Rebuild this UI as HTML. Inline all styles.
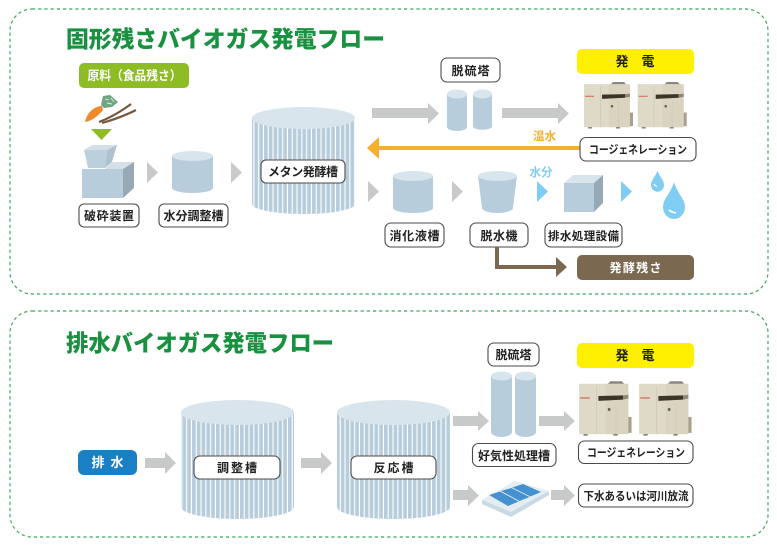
<!DOCTYPE html>
<html lang="ja"><head><meta charset="utf-8"><title>バイオガス発電フロー</title>
<style>
html,body{margin:0;padding:0;background:#fff}
svg{display:block;width:777px;height:546px}
text{font-family:"Liberation Sans","Noto Sans CJK JP",sans-serif;font-weight:700;text-anchor:middle}
.t{font-size:23px;fill:#1a9140;text-anchor:start;font-weight:900}
.l{font-size:12px;fill:#222}
.m{font-size:11.500px;fill:#222}
.w{font-size:12px;fill:#fff}
.box{fill:#fff;stroke:#4a4a4a;stroke-width:1.1}
.a{fill:#c8cac9}
.c{fill:#b7cddb}
.ct{fill:#d9e5ec}
</style></head><body>
<svg xmlns="http://www.w3.org/2000/svg" viewBox="0 0 777 546" width="777" height="546">
<defs>
<pattern id="st" width="4.8" height="10" patternUnits="userSpaceOnUse">
<rect width="4.8" height="10" fill="#b7cddb"/><rect x="3.7" width="1.1" height="10" fill="#fff"/>
</pattern>
<g id="gen">
<path d="M2 3L44 3L48 6L48 44L2 44Z" fill="#dfd9c8"/>
<rect x="27" y="3" width="21" height="41" fill="#dad3c0"/>
<rect x="18" y="5" width=".7" height="39" fill="#cfc8b4"/>
<rect x="36" y="19" width=".7" height="25" fill="#cfc8b4"/>
<path d="M20 13L43 12.500L43 16L20 17Z" fill="#3d3329"/>
<path d="M43 12.500L48 12L48 15L43 16Z" fill="#8f8876"/>
<rect x="3" y="14" width="9" height="1.200" fill="#cf7f6b"/>
<circle cx="30" cy="24" r="1.300" fill="#6b665a"/>
<rect x="48" y="30" width="3" height="13" fill="#a9a18b"/>
<path d="M29 3L44 3L42 1L31 1Z" fill="#8a877e"/>
<rect x="6" y="44" width="4" height="1.200" fill="#77736a"/><rect x="34" y="44" width="4" height="1.200" fill="#77736a"/>
</g>
</defs>
<rect width="777" height="546" fill="#fff"/>
<rect x="10" y="9" width="758" height="285" rx="22" fill="none" stroke="#3aa85c" stroke-width="1.2" stroke-dasharray="3.2 3"/>
<rect x="10" y="311" width="758" height="226" rx="22" fill="none" stroke="#3aa85c" stroke-width="1.2" stroke-dasharray="3.2 3"/>

<text class="t" x="66" y="47" textLength="319" lengthAdjust="spacingAndGlyphs">固形残さバイオガス発電フロー</text>
<text class="t" x="66" y="351" textLength="268" lengthAdjust="spacingAndGlyphs">排水バイオガス発電フロー</text>

<!-- top left -->
<rect x="79" y="63" width="110" height="25" rx="5" fill="#8dbc24"/>
<text class="w" x="134.500" y="80" style="font-size:12.500px" textLength="94" lengthAdjust="spacingAndGlyphs">原料（食品残さ）</text>
<path d="M85 122C87 112 95 106 102 106L103 110C98 116 92 121 85 122Z" fill="#ee8a2a"/>
<path d="M101 105L103 96L110 95L118 102L112 107L104 108Z" fill="#6fa581"/>
<path d="M105 99L109 100M107 103L112 104M111 98L114 102" stroke="#dfeee4" stroke-width=".9" fill="none"/>
<path d="M99 122Q115 116 131 104M102 123Q120 118 136 110" fill="none" stroke="#75593f" stroke-width="2.200"/>
<path d="M91 129H112L101.500 140Z" fill="#8dbc24"/>
<path d="M84 150L107 150L105 168L88 168Z" fill="#bccfdc"/>
<path d="M84 150L92 145H117L107 150Z" fill="#d3e0e8"/>
<path d="M107 150L117 145L112 162L105 168Z" fill="#adc3d1"/>
<path d="M82 169H105L112 162H134L123 169Z" fill="#d3e0e8"/>
<rect x="82" y="169" width="41" height="29" fill="#b7cddb"/>
<path d="M123 169L134 162V188L123 198Z" fill="#96a9b5"/>
<rect x="79" y="204" width="60" height="23" rx="5" class="box"/><text class="l" x="109" y="220" textLength="50">破砕装置</text>
<path d="M147 162L158 172.500L147 183Z" class="a"/>
<path d="M172 156V188A20.500 5 0 0 0 213 188V156Z" class="c"/><ellipse cx="192.500" cy="156" rx="20.500" ry="5" class="ct"/>
<rect x="159" y="204" width="69" height="23" rx="5" class="box"/><text class="l" x="193.500" y="220" textLength="60">水分調整槽</text>
<path d="M231 162L242 172.500L231 183Z" class="a"/>

<!-- methane tank -->
<path d="M252 117V204A51.500 10 0 0 0 355 204V117Z" fill="url(#st)"/><ellipse cx="303.500" cy="118" rx="51.500" ry="11" class="ct"/>
<rect x="261" y="160" width="84" height="23" rx="5" class="box"/><text class="l" x="303" y="176" textLength="70">メタン発酵槽</text>

<!-- desulf -->
<path d="M372 108H428V103L439 113.500L428 124V118H372Z" class="a"/>
<rect x="441" y="58" width="59" height="24" rx="6" class="box"/><text class="l" x="470.500" y="75" textLength="38">脱硫塔</text>
<path d="M447 94V127A10 4 0 0 0 467 127V94Z" class="c"/><ellipse cx="457" cy="94" rx="10" ry="4.500" class="ct"/>
<path d="M473 94V127A10 4 0 0 0 492 127V94Z" class="c"/><ellipse cx="482.500" cy="94" rx="9.500" ry="4.500" class="ct"/>
<path d="M502 108H558V103L569 113.500L558 124V118H502Z" class="a"/>
<rect x="577" y="49" width="117" height="25" rx="5" fill="#fff000"/>
<text class="l" x="635" y="66" style="font-size:13px" xml:space="preserve">発　電</text>
<use href="#gen" transform="translate(582,81) scale(1,1.050)"/>
<use href="#gen" transform="translate(635.700,81) scale(1,1.050)"/>

<!-- hot water -->
<path d="M580 146V150H379V159L367 148L379 137V146Z" fill="#f5b02d"/>
<text x="544.500" y="140" style="font-size:11.500px;fill:#f5b02d">温水</text>
<rect x="580" y="137.500" width="116" height="23.500" rx="6" class="box"/><text class="m" x="638" y="153.500" textLength="98" lengthAdjust="spacingAndGlyphs">コージェネレーション</text>

<!-- mid row -->
<path d="M368 181L379 191.500L368 202Z" class="a"/>
<path d="M393 176V208A20 5 0 0 0 433 208V176Z" class="c"/><ellipse cx="413" cy="176" rx="20" ry="5" class="ct"/>
<rect x="385" y="223" width="59" height="24" rx="6" class="box"/><text class="l" x="414.500" y="240" textLength="50">消化液槽</text>
<path d="M452 181L463 191.500L452 202Z" class="a"/>
<path d="M478 176L482 208A15.500 5 0 0 0 513 208L517 176Z" class="c"/><ellipse cx="497.500" cy="176" rx="19.500" ry="5" class="ct"/>
<rect x="470" y="223" width="58" height="24" rx="6" class="box"/><text class="l" x="499" y="240" textLength="37">脱水機</text>
<text x="541" y="176" style="font-size:11.500px;fill:#7fcdf2">水分</text>
<path d="M537 181L548 191.500L537 202Z" fill="#7fcdf2"/>
<path d="M564 183L573 175H603L594 183Z" fill="#d9e5ec"/><rect x="564" y="183" width="30" height="29" class="c"/><path d="M594 183L603 175V203L594 212Z" fill="#96a9b5"/>
<rect x="545" y="223" width="77" height="24" rx="6" class="box"/><text class="l" x="583.500" y="240" style="font-size:11.500px" textLength="71">排水処理設備</text>
<path d="M621 181L632 191.500L621 202Z" fill="#7fcdf2"/>
<path d="M657.500 171C660 177 664 180 664 185A6.500 6.800 0 0 1 651 185C651 180 655 177 657.500 171Z" fill="#7fcdf2"/>
<path d="M654 184Q655 186 657 186.500" stroke="#fff" stroke-width="1.100" fill="none"/>
<path d="M674 182C677 193 685 199 685 207A11 12 0 0 1 663 207C663 199 671 193 674 182Z" fill="#7fcdf2"/>
<path d="M669 210Q671 212 676 213" stroke="#fff" stroke-width="1.800" fill="none"/>
<path d="M495 247H499V265H556V257L567 267L556 277V269H495Z" fill="#7b6851"/>
<rect x="577" y="255" width="117" height="25" rx="5" fill="#7b6851"/><text class="w" x="635.500" y="272" textLength="52">発酵残さ</text>

<!-- bottom -->
<rect x="78" y="450" width="59" height="25" rx="6" fill="#1a7fc4"/><text class="w" x="107.500" y="467" style="font-size:13px" textLength="32">排水</text>
<path d="M145 458H165V452L176 463L165 474V468H145Z" class="a"/>
<path d="M181 412V507A56.500 12 0 0 0 294 507V412Z" fill="url(#st)"/><ellipse cx="237.500" cy="412.500" rx="56.500" ry="12.500" class="ct"/>
<rect x="194" y="456" width="86" height="23" rx="6" class="box"/><text class="l" x="237" y="472" textLength="40">調整槽</text>
<path d="M301 458H321V452L332 463L321 474V468H301Z" class="a"/>
<path d="M337 412V507A56.500 12 0 0 0 450 507V412Z" fill="url(#st)"/><ellipse cx="393.500" cy="412.500" rx="56.500" ry="12.500" class="ct"/>
<rect x="351" y="456" width="85" height="23" rx="6" class="box"/><text class="l" x="393.500" y="472" textLength="40">反応槽</text>

<path d="M453 416H478V411L489 421L478 431V426H453Z" class="a"/>
<rect x="488" y="343" width="51" height="23" rx="6" class="box"/><text class="l" x="513.500" y="359" textLength="36">脱硫塔</text>
<path d="M491 376V432A10.500 5 0 0 0 512 432V376Z" class="c"/><ellipse cx="501.500" cy="376" rx="10.500" ry="4.500" class="ct"/>
<path d="M515 376V432A10.500 5 0 0 0 536 432V376Z" class="c"/><ellipse cx="525.500" cy="376" rx="10.500" ry="4.500" class="ct"/>
<rect x="472.500" y="443.500" width="83.500" height="23" rx="6" class="box"/><text class="l" x="514" y="460" textLength="72">好気性処理槽</text>
<path d="M539 416H564V411L575 421L564 431V426H539Z" class="a"/>
<use href="#gen" transform="translate(577,380) scale(1.070,1.230)"/>
<use href="#gen" transform="translate(637,380) scale(1.070,1.230)"/>
<rect x="577" y="343" width="117" height="25" rx="5" fill="#fff000"/>
<text class="l" x="635" y="360" style="font-size:13px" xml:space="preserve">発　電</text>
<rect x="578.500" y="441" width="114.500" height="22.500" rx="6" class="box"/><text class="m" x="636" y="456.500" textLength="98" lengthAdjust="spacingAndGlyphs">コージェネレーション</text>

<path d="M453 490H468V485L479 495.500L468 506V500H453Z" class="a"/>
<path d="M482 500L515 481L549 492V495L511 517L482 504Z" fill="#c9dae4"/>
<path d="M482 500L515 481L549 491L511 512Z" fill="#e3edf2"/>
<path d="M489 495L500 491.500L518.600 501.500L508 506Z" fill="#4590cf"/>
<path d="M501 491L511.300 488L529.600 497L519.600 501Z" fill="#4590cf"/>
<path d="M512.200 487.500L523 484L541 492L530.500 496.500Z" fill="#4590cf"/>
<path d="M551 490H564V485L575 495.500L564 506V500H551Z" class="a"/>
<rect x="578.500" y="484" width="114.500" height="23" rx="6" class="box"/><text class="m" x="636" y="500" textLength="105" lengthAdjust="spacingAndGlyphs">下水あるいは河川放流</text>
</svg>
</body></html>
